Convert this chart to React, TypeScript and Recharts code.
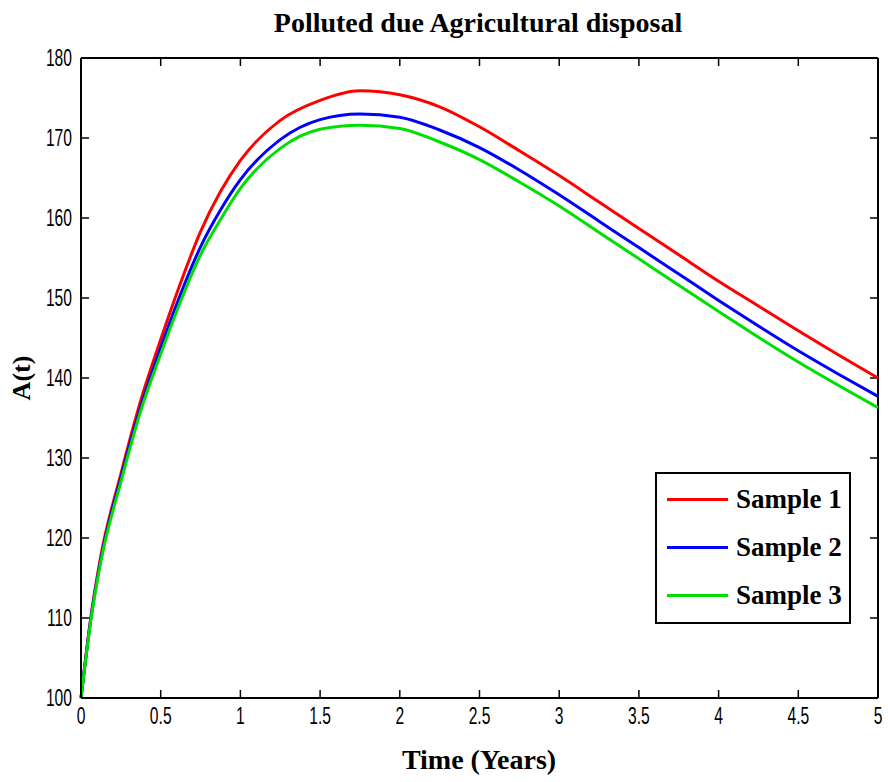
import React from 'react';
import { LineChart, Line, XAxis, YAxis, ReferenceLine } from 'recharts';

const TIMES = [0, 0.0625, 0.125, 0.25, 0.375, 0.5, 0.625, 0.75, 0.875, 1, 1.25, 1.5, 1.75, 2, 2.25, 2.5, 2.75, 3, 3.25, 3.5, 3.75, 4, 4.25, 4.5, 4.75, 5];
const SAMPLE1 = [100, 110.2, 117.8, 128.0, 137.2, 144.8, 151.9, 158.3, 163.3, 167.2, 172.2, 174.7, 175.9, 175.4, 173.9, 171.4, 168.4, 165.3, 162.0, 158.7, 155.4, 152.1, 149.0, 145.9, 142.9, 140.0];
const SAMPLE2 = [100, 110.0, 117.4, 127.5, 136.4, 143.8, 150.5, 156.4, 161.0, 164.8, 169.8, 172.3, 173.0, 172.6, 171.0, 168.8, 166.0, 162.9, 159.6, 156.3, 153.0, 149.7, 146.5, 143.4, 140.5, 137.7];
const SAMPLE3 = [100, 109.8, 117.1, 127.0, 135.9, 143.0, 149.6, 155.4, 159.8, 163.7, 168.7, 171.1, 171.6, 171.2, 169.5, 167.3, 164.5, 161.5, 158.2, 154.9, 151.6, 148.3, 145.1, 142.0, 139.1, 136.3];

const X_TICKS = [0, 0.5, 1, 1.5, 2, 2.5, 3, 3.5, 4, 4.5, 5];
const Y_TICKS = [100, 110, 120, 130, 140, 150, 160, 170, 180];
const X_DOMAIN = [0, 5];
const Y_DOMAIN = [100, 180];

const SERIES = [
  { key: 's1', name: 'Sample 1', color: '#ff0000' },
  { key: 's2', name: 'Sample 2', color: '#0000ff' },
  { key: 's3', name: 'Sample 3', color: '#00e000' },
];

const data = TIMES.map((t, i) => ({ t, s1: SAMPLE1[i], s2: SAMPLE2[i], s3: SAMPLE3[i] }));

const SERIF = "'Liberation Serif', 'DejaVu Serif', serif";
const SANS = "'Liberation Sans', Arial, sans-serif";
// inward tick length expressed in data units
const XT = 0.05;
const YT = 1;

const BottomTick = (p: any) => (
  <text x={0} y={0} transform={`translate(${p.x},${p.y + 26}) scale(0.68,1)`} textAnchor="middle"
    fontFamily={SANS} fontSize={23} fill="#000">{p.payload.value}</text>
);
const LeftTick = (p: any) => (
  <text x={0} y={0} transform={`translate(${p.x - 9},${p.y + 8}) scale(0.68,1)`} textAnchor="end"
    fontFamily={SANS} fontSize={23} fill="#000">{p.payload.value}</text>
);

export default function App() {
  const axisStroke = { stroke: '#000', strokeWidth: 2 };
  return (
    <div style={{ position: 'absolute', left: 0, top: 0, width: 888, height: 782, background: '#fff' }}>
      <LineChart width={888} height={782} data={data} margin={{ top: 58, right: 10, left: 0, bottom: 0 }}>
        <XAxis dataKey="t" type="number" domain={X_DOMAIN} ticks={X_TICKS} height={84} tickSize={0} tickMargin={0}
          tickLine={false} tick={BottomTick} axisLine={axisStroke} interval={0} />
        <YAxis type="number" domain={Y_DOMAIN} ticks={Y_TICKS} width={81} tickSize={0} tickMargin={0}
          tickLine={false} tick={LeftTick} axisLine={axisStroke} interval={0} />
        <ReferenceLine y={180} stroke="#000" strokeWidth={2} />
        <ReferenceLine x={5} stroke="#000" strokeWidth={2} />
        {X_TICKS.map((t) => (
          <ReferenceLine key={'xb' + t} segment={[{ x: t, y: 100 }, { x: t, y: 100 + YT }]} stroke="#000" strokeWidth={1.5} />
        ))}
        {X_TICKS.map((t) => (
          <ReferenceLine key={'xt' + t} segment={[{ x: t, y: 180 - YT }, { x: t, y: 180 }]} stroke="#000" strokeWidth={1.5} />
        ))}
        {Y_TICKS.map((v) => (
          <ReferenceLine key={'yl' + v} segment={[{ x: 0, y: v }, { x: XT, y: v }]} stroke="#000" strokeWidth={1.5} />
        ))}
        {Y_TICKS.map((v) => (
          <ReferenceLine key={'yr' + v} segment={[{ x: 5 - XT, y: v }, { x: 5, y: v }]} stroke="#000" strokeWidth={1.5} />
        ))}
        {SERIES.map((s) => (
          <Line key={s.key} dataKey={s.key} name={s.name} type="monotone" stroke={s.color} strokeWidth={3}
            dot={false} activeDot={false} isAnimationActive={false} />
        ))}
      </LineChart>
      <div style={{ position: 'absolute', left: 655, top: 472, width: 196, height: 152, border: '2px solid #000', background: '#fff', boxSizing: 'border-box', paddingTop: 1 }}>
        {SERIES.map((s) => (
          <div key={s.key} style={{ display: 'flex', alignItems: 'center', height: 48 }}>
            <div style={{ width: 61, height: 3, background: s.color, marginLeft: 10, marginRight: 8 }} />
            <span style={{ fontFamily: SERIF, fontSize: 27, color: '#000', fontWeight: 'bold' }}>{s.name}</span>
          </div>
        ))}
      </div>
      <div style={{ position: 'absolute', left: 0, top: 7, width: 956, textAlign: 'center', fontFamily: SERIF, fontSize: 28, fontWeight: 'bold', color: '#000' }}>
        Polluted due Agricultural disposal
      </div>
      <div style={{ position: 'absolute', left: 0, top: 744, width: 958, textAlign: 'center', fontFamily: SERIF, fontSize: 28, fontWeight: 'bold', color: '#000' }}>
        Time (Years)
      </div>
      <div style={{ position: 'absolute', left: 22, top: 378, transform: 'translate(-50%, -50%) rotate(-90deg)', fontFamily: SERIF, fontSize: 26, fontWeight: 'bold', color: '#000', whiteSpace: 'nowrap' }}>
        A(t)
      </div>
    </div>
  );
}
